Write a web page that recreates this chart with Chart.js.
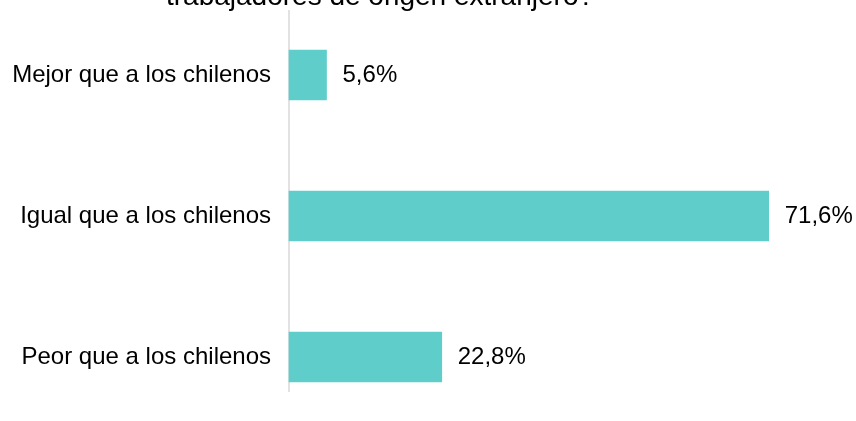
<!DOCTYPE html>
<html>
<head>
<meta charset="utf-8">
<script src="https://cdn.jsdelivr.net/npm/chart.js@4"></script>
<style>
    html, body { margin: 0; padding: 0; background: #fff; }
    #wrap { width: 856px; height: 421px; }
</style>
</head>
<body>
<div id="wrap"><canvas id="grafico"></canvas></div>
<script>
const categorias = ["Mejor que a los chilenos", "Igual que a los chilenos", "Peor que a los chilenos"];
const porcentajes = [5.6, 71.6, 22.8];
const etiquetas = ["5,6%", "71,6%", "22,8%"];
const tituloVisible = "trabajadores de origen extranjero?";

const fuente = "'Liberation Sans', Arial, sans-serif";

// linea vertical del eje y texto del titulo
const ejePlugin = {
    id: "eje",
    beforeDatasetsDraw(chart) {
        const ctx = chart.ctx;
        const x0 = chart.scales.x.getPixelForValue(0);
        ctx.save();
        ctx.strokeStyle = "#d9d9d9";
        ctx.lineWidth = 1.5;
        ctx.beginPath();
        ctx.moveTo(x0, 10);
        ctx.lineTo(x0, 392);
        ctx.stroke();
        ctx.restore();
    },
    afterDraw(chart) {
        const ctx = chart.ctx;
        ctx.save();
        ctx.fillStyle = "#000";
        ctx.font = "28px " + fuente;
        ctx.textAlign = "center";
        ctx.textBaseline = "alphabetic";
        ctx.fillText(tituloVisible, 380, 5);
        ctx.restore();
    }
};

// porcentaje al final de cada barra
const valoresPlugin = {
    id: "valores",
    afterDatasetsDraw(chart) {
        const ctx = chart.ctx;
        const meta = chart.getDatasetMeta(0);
        ctx.save();
        ctx.fillStyle = "#000";
        ctx.font = "24px " + fuente;
        ctx.textAlign = "left";
        ctx.textBaseline = "middle";
        meta.data.forEach((barra, i) => {
            ctx.fillText(etiquetas[i], barra.x + 16, barra.y);
        });
        ctx.restore();
    }
};

new Chart(document.getElementById("grafico"), {
    type: "bar",
    data: {
        labels: categorias,
        datasets: [{
            data: porcentajes,
            backgroundColor: "#5fcecb",
            barThickness: 50,
            clip: false
        }]
    },
    options: {
        indexAxis: "y",
        responsive: true,
        maintainAspectRatio: false,
        animation: false,
        layout: {
            padding: { left: 8, right: 31, top: 75, bottom: 64 }
        },
        plugins: {
            legend: { display: false },
            tooltip: { enabled: false }
        },
        scales: {
            x: {
                display: false,
                min: 0,
                max: 80
            },
            y: {
                offset: false,
                grid: { display: false },
                border: { display: false },
                ticks: {
                    color: "#000",
                    padding: 10,
                    font: { size: 24, family: fuente }
                },
                afterFit(scale) {
                    scale.width = 281;
                }
            }
        }
    },
    plugins: [ejePlugin, valoresPlugin]
});
</script>
</body>
</html>
